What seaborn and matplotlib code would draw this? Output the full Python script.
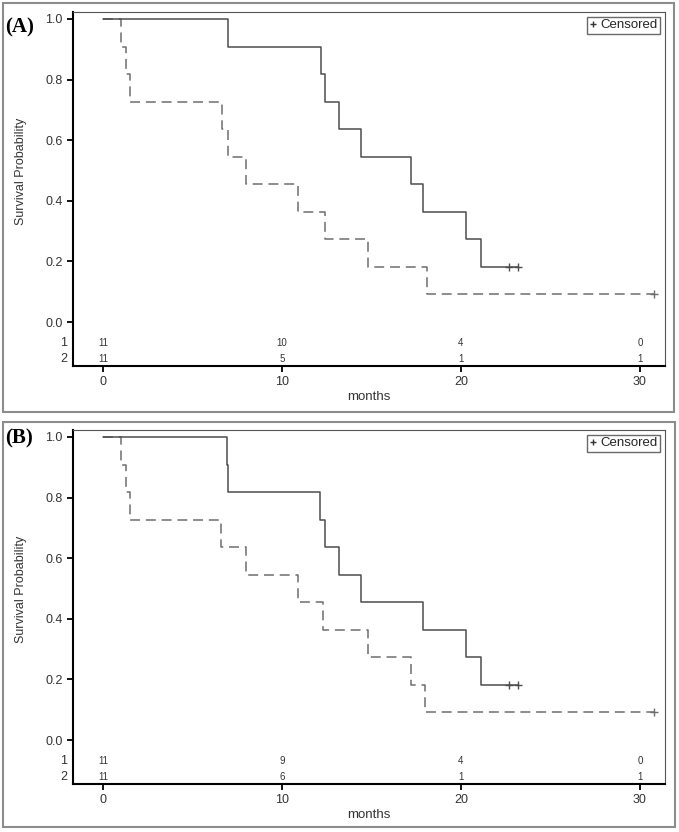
import numpy as np
import pandas as pd
import matplotlib
matplotlib.use('Agg')
import matplotlib.pyplot as plt
import seaborn as sns
from matplotlib.lines import Line2D
from matplotlib.patches import Rectangle
from matplotlib.transforms import blended_transform_factory

# ---------------------- data ----------------------
# Panel A, group 1 (solid)
a1_time = [0, 7.0, 12.2, 12.4, 13.2, 14.4, 17.2, 17.9, 20.3, 21.1, 23.2]
a1_surv = [1.0, 0.909, 0.818, 0.727, 0.636, 0.545, 0.455, 0.364, 0.273, 0.182, 0.182]
a1_cens = [22.7, 23.2]
# Panel A, group 2 (dashed)
a2_time = [0, 1.0, 1.3, 1.5, 6.65, 7.0, 8.0, 10.9, 12.4, 14.8, 18.1, 30.8]
a2_surv = [1.0, 0.909, 0.818, 0.727, 0.636, 0.545, 0.455, 0.364, 0.273, 0.182, 0.091, 0.091]
a2_cens = [30.8]
# Panel B, group 1 (solid)
b1_time = [0, 6.9, 7.0, 12.1, 12.4, 13.2, 14.4, 17.9, 20.3, 21.1, 23.2]
b1_surv = [1.0, 0.909, 0.818, 0.727, 0.636, 0.545, 0.455, 0.364, 0.273, 0.182, 0.182]
b1_cens = [22.7, 23.2]
# Panel B, group 2 (dashed)
b2_time = [0, 1.0, 1.3, 1.5, 6.6, 8.0, 10.9, 12.3, 14.8, 17.2, 18.0, 30.8]
b2_surv = [1.0, 0.909, 0.818, 0.727, 0.636, 0.545, 0.455, 0.364, 0.273, 0.182, 0.091, 0.091]
b2_cens = [30.8]

risk_times = [0, 10, 20, 30]
a_risk1 = [11, 10, 4, 0]
a_risk2 = [11, 5, 1, 1]
b_risk1 = [11, 9, 4, 0]
b_risk2 = [11, 6, 1, 1]

panel_labels = ['(A)', '(B)']
y_ticks = [0.0, 0.2, 0.4, 0.6, 0.8, 1.0]
x_ticks = [0, 10, 20, 30]

# ---------------------- styling ----------------------
sns.set_style('ticks')
plt.rcParams['font.family'] = ['Liberation Sans', 'DejaVu Sans']

W, H = 679, 832
fig = plt.figure(figsize=(W / 100, H / 100), dpi=100)

solid_col = '#4d4d4d'
dash_col = '#6e6e6e'
text_col = '#333333'


def px_rect(x0, y0, x1, y1):
    return [x0 / W, 1 - y1 / H, (x1 - x0) / W, (y1 - y0) / H]


def km_panel(ax, g1, g2, risk1, risk2, label, label_y):
    t1, s1, c1 = g1
    t2, s2, c2 = g2
    d2 = pd.DataFrame({'t': t2, 's': s2})
    d1 = pd.DataFrame({'t': t1, 's': s1})
    sns.lineplot(data=d2, x='t', y='s', ax=ax, estimator=None, color=dash_col,
                 drawstyle='steps-post', lw=1.1, linestyle=(0, (6.5, 3.8)))
    sns.lineplot(data=d1, x='t', y='s', ax=ax, estimator=None, color=solid_col,
                 drawstyle='steps-post', lw=1.1)
    # censor marks sit at the last survival value
    sns.scatterplot(x=c2, y=[s2[-1]] * len(c2), ax=ax, marker='+', s=30,
                    color=dash_col, linewidth=1.0, zorder=5)
    sns.scatterplot(x=c1, y=[s1[-1]] * len(c1), ax=ax, marker='+', s=30,
                    color=solid_col, linewidth=1.0, zorder=5)

    ax.set_xlim(-1.68, 31.4)
    ax.set_ylim(-0.145, 1.023)
    ax.set_yticks(y_ticks)
    ax.set_yticklabels([f'{v:.1f}' for v in y_ticks])
    ax.set_xticks(x_ticks)
    ax.tick_params(axis='both', labelsize=9, length=4.5, width=1.3,
                   colors='black', labelcolor=text_col, pad=3)

    for side in ['left', 'bottom']:
        ax.spines[side].set_linewidth(1.5)
        ax.spines[side].set_color('black')
    for side in ['top', 'right']:
        ax.spines[side].set_visible(True)
        ax.spines[side].set_linewidth(0.8)
        ax.spines[side].set_color('#555555')

    ax.set_ylabel('Survival Probability', fontsize=9, color=text_col)
    ax.yaxis.set_label_coords(-0.078, 0.551)
    ax.set_xlabel('months', fontsize=9.5, color=text_col)
    ax.xaxis.set_label_coords(0.5, -0.072)

    # number at risk rows
    trans = blended_transform_factory(ax.transAxes, ax.transData)
    for row_y, name, counts in [(-0.069, '1', risk1), (-0.122, '2', risk2)]:
        ax.text(-0.010, row_y, name, transform=trans, ha='right', va='center',
                fontsize=9, color=text_col)
        for xt, n in zip(risk_times, counts):
            ax.text(xt, row_y, str(n), ha='center', va='center', fontsize=7,
                    color=text_col)

    handle = Line2D([], [], marker='+', ls='none', color=text_col, markersize=5)
    leg = ax.legend(handles=[handle], labels=['Censored'], loc='upper right',
                    fontsize=9.5, frameon=True, fancybox=False, handlelength=0.5,
                    handletextpad=0.3, borderpad=0.2, borderaxespad=0.35)
    leg.get_frame().set_edgecolor('#444444')
    leg.get_frame().set_linewidth(1.0)
    ax.text(-0.114, label_y, label, transform=ax.transAxes, ha='left', va='center',
            fontsize=15, fontweight='bold', family=['Liberation Serif', 'DejaVu Serif'],
            color='black')


ax_a = fig.add_axes(px_rect(73, 12, 665, 366))
ax_b = fig.add_axes(px_rect(73, 430, 665, 784))

km_panel(ax_a, (a1_time, a1_surv, a1_cens), (a2_time, a2_surv, a2_cens),
         a_risk1, a_risk2, panel_labels[0], 0.955)
km_panel(ax_b, (b1_time, b1_surv, b1_cens), (b2_time, b2_surv, b2_cens),
         b_risk1, b_risk2, panel_labels[1], 0.975)

# grey outer frames around each panel
for box in [(3, 3, 674, 412), (3, 422, 675, 827)]:
    x, y, w, h = px_rect(*box)
    fig.patches.append(Rectangle((x, y), w, h, transform=fig.transFigure,
                                 fill=False, edgecolor='#8c8c8c', lw=1.5))

fig.savefig('out.png', dpi=100, facecolor='white')
